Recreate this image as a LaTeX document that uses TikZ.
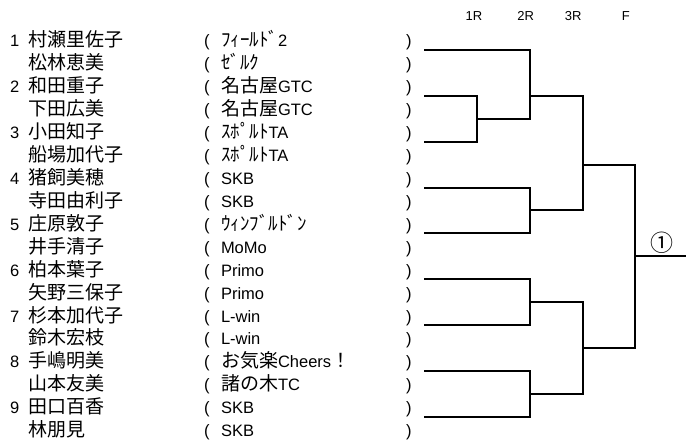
\documentclass[tikz,border=0pt]{standalone}
\usepackage{fontspec}
\setmainfont{Liberation Sans}
\newfontfamily\jp{Noto Sans CJK JP}
\newcommand\J[1]{{\jp\fontsize{19}{20}\selectfont #1}}
\begin{document}
\begin{tikzpicture}[x=1pt,y=-1pt,
  txt/.style={inner sep=0pt,outer sep=0pt,anchor=base west,font=\fontsize{16.5}{18}\selectfont},
  hdr/.style={inner sep=0pt,outer sep=0pt,anchor=base,font=\fontsize{13}{14}\selectfont},
  br/.style={line width=2pt,black}]
\fill[white] (0,0) rectangle (686,441);
\useasboundingbox (0,0) rectangle (686,441);
% header
\node[hdr] (h1) at (474,20.5) {1R};
\node[hdr] (h2) at (525.8,20.5) {2R};
\node[hdr] (h3) at (573.3,20.5) {3R};
\node[hdr] (h4) at (625.8,20.5) {F};
% seed numbers
\foreach \k in {1,...,9}{
  \node[txt] (num\k) at (10,{47+(2*\k-2)*22.917}) {\k};
}
% rows
\foreach \i/\nm/\cl in {
 1/村瀬里佐子/\J{ﾌｨｰﾙﾄﾞ}2,
 2/松林恵美/\J{ｾﾞﾙｸ},
 3/和田重子/\J{名古屋}GTC,
 4/下田広美/\J{名古屋}GTC,
 5/小田知子/\J{ｽﾎﾟﾙﾄ}TA,
 6/船場加代子/\J{ｽﾎﾟﾙﾄ}TA,
 7/猪飼美穂/SKB,
 8/寺田由利子/SKB,
 9/庄原敦子/\J{ｳｨﾝﾌﾞﾙﾄﾞﾝ},
 10/井手清子/MoMo,
 11/柏本葉子/Primo,
 12/矢野三保子/Primo,
 13/杉本加代子/L-win,
 14/鈴木宏枝/L-win,
 15/手嶋明美/\J{お気楽}Cheers\J{！},
 16/山本友美/\J{諸の木}TC,
 17/田口百香/SKB,
 18/林朋見/SKB}{
  \node[txt] (name\i) at (28.5,{47+(\i-1)*22.917}) {\J{\nm}};
  \node[txt] (op\i) at (204,{47+(\i-1)*22.917}) {(};
  \node[txt] (club\i) at (221,{47+(\i-1)*22.917}) {\cl};
  \node[txt] (cp\i) at (406,{47+(\i-1)*22.917}) {)};
}
% bracket coordinates
\foreach \k in {1,...,9}{
  \coordinate (p\k) at (424,{50+(2*\k-2)*22.917});
}
\coordinate (c1R) at (477.3,118.75);
\coordinate (t2R) at (530,95.83);
\coordinate (m2R) at (530,210.42);
\coordinate (t3R) at (582.7,164.58);
\coordinate (b3R) at (582.7,347.92);
\coordinate (c6) at (530,302.08);
\coordinate (c8) at (530,393.75);
\coordinate (fin) at (635,256.25);
\coordinate (endpt) at (690,256.25);
% bracket lines
\draw[br] (p2) -| (c1R);
\draw[br] (p3) -| (c1R);
\draw[br] (p1) -| (530,118.75) -- (c1R);
\draw[br] (t2R) -| (582.7,210.42) -- (m2R);
\draw[br] (p4) -| (m2R);
\draw[br] (p5) -| (m2R);
\draw[br] (t3R) -| (635,347.92) -- (b3R);
\draw[br] (p6) -| (c6);
\draw[br] (p7) -| (c6);
\draw[br] (p8) -| (c8);
\draw[br] (p9) -| (c8);
\draw[br] (c6) -| (b3R);
\draw[br] (c8) -| (b3R);
\draw[br] (fin) -- (endpt);
\node[inner sep=0pt] (win) at (661.7,242.5) {\jp\fontsize{23}{24}\selectfont ①};
\end{tikzpicture}
\end{document}
